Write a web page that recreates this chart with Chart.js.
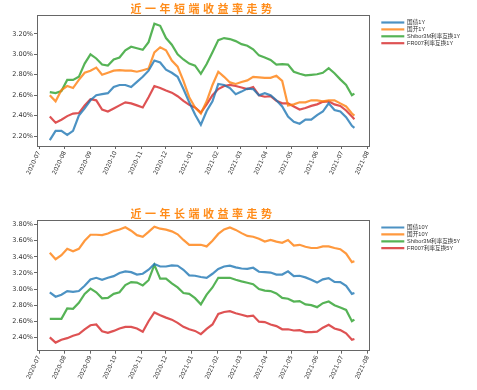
<!DOCTYPE html>
<html>
<head>
<meta charset="utf-8">
<script src="https://cdn.jsdelivr.net/npm/chart.js@4.4.1/dist/chart.umd.min.js"></script>
<style>
  body { margin: 0; background: #fff; }
  #wrap { position: relative; width: 477px; height: 390px; background: #fff; }
  canvas { position: absolute; left: 0; }
  .title {
    position: absolute; left: 0; width: 406px; text-align: center;
    font-family: "Noto Sans CJK SC", sans-serif; font-size: 11px; line-height: 14px;
    letter-spacing: 3.5px; color: #ff8c1a; font-weight: bold;
  }
</style>
</head>
<body>
<div id="wrap">
  <canvas id="short-chart" width="477" height="195" style="top:0"></canvas>
  <canvas id="long-chart" width="477" height="195" style="top:195px"></canvas>
  <div class="title" style="top:1px">近一年短端收益率走势</div>
  <div class="title" style="top:206px">近一年长端收益率走势</div>
</div>
<script>
// weekly samples
const dates = [
  "2020-07-14","2020-07-21","2020-07-28","2020-08-04","2020-08-11","2020-08-18","2020-08-25",
  "2020-09-01","2020-09-08","2020-09-15","2020-09-22","2020-09-29","2020-10-06","2020-10-13",
  "2020-10-20","2020-10-27","2020-11-03","2020-11-10","2020-11-17","2020-11-24","2020-12-01",
  "2020-12-08","2020-12-15","2020-12-22","2020-12-29","2021-01-05","2021-01-12","2021-01-19",
  "2021-01-26","2021-02-02","2021-02-09","2021-02-16","2021-02-23","2021-03-02","2021-03-09",
  "2021-03-16","2021-03-23","2021-03-30","2021-04-06","2021-04-13","2021-04-20","2021-04-27",
  "2021-05-04","2021-05-11","2021-05-18","2021-05-25","2021-06-01","2021-06-08","2021-06-15",
  "2021-06-22","2021-06-29","2021-07-06","2021-07-13","2021-07-16"
];
const monthTicks = [
  "2020-07-01","2020-08-01","2020-09-01","2020-10-01","2020-11-01","2020-12-01","2021-01-01",
  "2021-02-01","2021-03-01","2021-04-01","2021-05-01","2021-06-01","2021-07-01","2021-08-01"
];

const shortNames = ["国债1Y", "国开1Y", "Shibor3M利率互换1Y", "FR007利率互换1Y"];
const shortTicks = [2.2, 2.4, 2.6, 2.8, 3.0, 3.2];
const gz1y = [2.16,2.25,2.25,2.21,2.25,2.40,2.47,2.55,2.60,2.61,2.62,2.68,2.70,2.70,2.68,2.73,2.78,2.84,2.94,2.92,
  2.85,2.82,2.78,2.66,2.53,2.41,2.31,2.445,2.54,2.71,2.70,2.67,2.61,2.635,2.665,2.66,2.60,2.62,2.60,2.55,
  2.49,2.39,2.34,2.32,2.36,2.36,2.405,2.44,2.52,2.455,2.44,2.385,2.30,2.28];
const gk1y = [2.60,2.54,2.65,2.69,2.67,2.75,2.82,2.84,2.87,2.80,2.82,2.84,2.845,2.84,2.84,2.83,2.845,2.86,3.02,3.07,
  3.04,2.94,2.88,2.74,2.58,2.48,2.42,2.54,2.70,2.83,2.78,2.725,2.71,2.73,2.745,2.78,2.775,2.77,2.77,2.79,
  2.74,2.50,2.51,2.53,2.53,2.55,2.55,2.54,2.55,2.55,2.52,2.49,2.42,2.40];
const shibor1y = [2.63,2.62,2.64,2.75,2.75,2.78,2.91,3.00,2.96,2.90,2.89,2.95,2.97,3.04,3.075,3.06,3.045,3.12,3.30,3.28,
  3.16,3.095,3.00,2.95,2.91,2.89,2.81,2.905,3.02,3.14,3.16,3.15,3.13,3.10,3.085,3.05,2.99,2.97,2.945,2.90,
  2.905,2.90,2.83,2.81,2.795,2.80,2.805,2.82,2.865,2.815,2.755,2.70,2.60,2.615];
const fr1y = [2.39,2.33,2.36,2.395,2.42,2.425,2.50,2.56,2.55,2.46,2.44,2.47,2.50,2.53,2.52,2.50,2.48,2.58,2.69,2.67,
  2.645,2.625,2.59,2.545,2.505,2.48,2.43,2.51,2.60,2.66,2.69,2.70,2.69,2.675,2.66,2.68,2.60,2.585,2.59,2.545,
  2.52,2.52,2.49,2.46,2.475,2.495,2.51,2.535,2.54,2.51,2.495,2.45,2.39,2.365];

const longNames = ["国债10Y", "国开10Y", "Shibor3M利率互换5Y", "FR007利率互换5Y"];
const longTicks = [2.4, 2.6, 2.8, 3.0, 3.2, 3.4, 3.6, 3.8];
const gz10y = [2.96,2.905,2.93,2.975,2.965,2.975,3.04,3.12,3.14,3.115,3.14,3.16,3.20,3.22,3.21,3.18,3.19,3.24,3.31,3.28,
  3.28,3.295,3.29,3.24,3.17,3.165,3.15,3.14,3.19,3.25,3.28,3.29,3.27,3.255,3.25,3.265,3.215,3.21,3.205,3.18,
  3.18,3.22,3.16,3.165,3.145,3.115,3.08,3.12,3.135,3.09,3.086,3.04,2.94,2.95];
const gk10y = [3.45,3.37,3.42,3.50,3.47,3.50,3.60,3.675,3.675,3.67,3.69,3.72,3.74,3.767,3.725,3.67,3.65,3.71,3.775,3.75,
  3.738,3.717,3.68,3.61,3.55,3.55,3.55,3.53,3.60,3.685,3.74,3.765,3.735,3.695,3.66,3.65,3.625,3.59,3.61,3.59,
  3.575,3.61,3.54,3.55,3.525,3.51,3.51,3.53,3.53,3.51,3.495,3.44,3.335,3.345];
const shibor5y = [2.63,2.63,2.63,2.76,2.755,2.83,2.94,3.005,2.96,2.885,2.89,2.94,2.96,3.05,3.086,3.08,3.045,3.11,3.30,3.13,
  3.13,3.07,3.02,2.95,2.94,2.887,2.81,2.93,3.02,3.14,3.14,3.14,3.115,3.095,3.078,3.06,3.00,2.98,2.975,2.945,
  2.89,2.88,2.845,2.85,2.81,2.80,2.775,2.825,2.845,2.80,2.77,2.74,2.60,2.62];
const fr5y = [2.40,2.335,2.37,2.39,2.42,2.44,2.50,2.55,2.56,2.475,2.455,2.48,2.51,2.53,2.53,2.51,2.47,2.60,2.71,2.675,
  2.645,2.62,2.58,2.53,2.50,2.48,2.44,2.505,2.56,2.69,2.715,2.725,2.70,2.68,2.66,2.67,2.595,2.59,2.56,2.54,
  2.50,2.50,2.485,2.49,2.465,2.465,2.47,2.52,2.555,2.51,2.49,2.45,2.37,2.38];

const colors = ["rgba(31,119,180,0.8)", "rgba(255,127,14,0.8)", "rgba(44,160,44,0.8)", "rgba(214,39,40,0.8)"];
const AXIS = "#666";
const TEXT = "#333";
const X_MIN = Date.parse("2020-06-28T14:00:00Z");
const X_MAX = Date.parse("2021-08-02T14:00:00Z");

function fmtMonth(v){
  const d = new Date(v);
  return d.getUTCFullYear() + "-" + String(d.getUTCMonth() + 1).padStart(2, "0");
}

function buildChart(id, names, series, yMin, yMax, yTicks, padTop, xHeight){
  const datasets = series.map((vals, i) => ({
    label: names[i],
    data: vals.map((v, j) => ({ x: Date.parse(dates[j]), y: v })),
    borderColor: colors[i],
    backgroundColor: colors[i],
    borderWidth: 2.2,
    pointRadius: 0,
    tension: 0,
    xAxisID: "x",
    yAxisID: "y"
  }));

  return new Chart(document.getElementById(id), {
    type: "line",
    data: { datasets },
    options: {
      responsive: false,
      animation: false,
      layout: { padding: { left: 0, top: padTop, right: 17, bottom: 0 } },
      plugins: {
        tooltip: { enabled: false },
        legend: {
          position: "right",
          align: "start",
          fullSize: false,
          maxWidth: 80,
          // empty title only pushes the entries down a little
          title: { display: true, text: "", font: { size: 2 }, padding: { top: 1, bottom: 0 } },
          labels: {
            usePointStyle: true,
            pointStyle: "line",
            pointStyleWidth: 23,
            padding: 1.3,
            color: TEXT,
            font: { family: "'Liberation Sans', 'Noto Sans CJK SC'", size: 5.6 }
          }
        }
      },
      scales: {
        x: {
          type: "linear",
          min: X_MIN,
          max: X_MAX,
          afterBuildTicks: ax => { ax.ticks = monthTicks.map(m => ({ value: Date.parse(m) })); },
          afterFit: ax => { ax.height = xHeight; },
          grid: { display: true, drawOnChartArea: false, tickLength: 3, color: AXIS },
          border: { color: AXIS, width: 1 },
          ticks: {
            autoSkip: false, minRotation: 65, maxRotation: 65, padding: 1, color: TEXT,
            font: { family: "'DejaVu Sans'", size: 6 },
            callback: v => fmtMonth(v)
          }
        },
        y: {
          min: yMin,
          max: yMax,
          afterBuildTicks: ax => { ax.ticks = yTicks.map(v => ({ value: v })); },
          afterFit: ax => { ax.width = 37; },
          grid: { display: true, drawOnChartArea: false, tickLength: 3, color: AXIS },
          border: { color: AXIS, width: 1 },
          ticks: {
            padding: 1, color: TEXT,
            font: { family: "'DejaVu Sans'", size: 6.5 },
            callback: v => v.toFixed(2) + "%"
          }
        },
        // top and right spines of the frame
        xTop: {
          type: "linear", position: "top",
          afterFit: ax => { ax.height = 0; },
          grid: { display: false }, ticks: { display: false },
          border: { color: AXIS, width: 1 }
        },
        yRight: {
          type: "linear", position: "right",
          afterFit: ax => { ax.width = 11; },
          grid: { display: false }, ticks: { display: false },
          border: { color: AXIS, width: 1 }
        }
      }
    }
  });
}

buildChart("short-chart", shortNames, [gz1y, gk1y, shibor1y, fr1y], 2.102, 3.386, shortTicks, 15, 49);
buildChart("long-chart", longNames, [gz10y, gk10y, shibor5y, fr5y], 2.234, 3.858, longTicks, 25, 39.3);
</script>
</body>
</html>
